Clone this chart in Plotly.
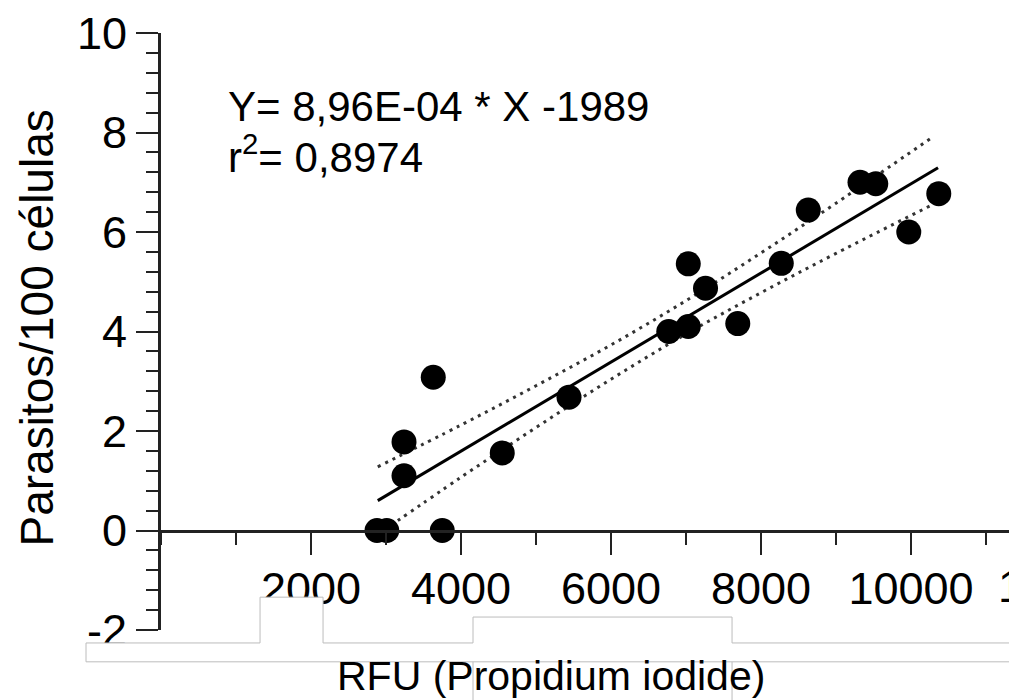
import plotly.graph_objects as go

# RFU readings (x) vs parasites per 100 cells (y)
rfu = [2880, 3010, 3750, 3630, 3240, 3240, 4550, 5440, 6770, 7030,
       7030, 7260, 7690, 8270, 8630, 9320, 9530, 9970, 10370]
parasitos = [0, 0, 0, 3.08, 1.78, 1.10, 1.56, 2.68, 4.0, 4.1,
             5.36, 4.87, 4.16, 5.37, 6.44, 7.0, 6.97, 6.0, 6.77]

# regression line end points
fit_x = [2890, 10360]
fit_y = [0.60, 7.29]

# 95% confidence band
band_x = [2890, 4000, 5000, 6000, 7000, 8000, 9000, 10300]
band_hi = [1.28, 2.12, 2.91, 3.73, 4.62, 5.58, 6.58, 7.92]
band_lo = [-0.08, 1.07, 2.07, 3.04, 3.95, 4.78, 5.57, 6.56]

y_ticks = [-2, 0, 2, 4, 6, 8, 10]
x_ticks = [2000, 4000, 6000, 8000, 10000]

FONT = "Liberation Sans, Arial, sans-serif"
AX = "#222"

# page is drawn with the default 8px body margin
OFF = 8
W, H = 1017, 700
L, R, T, B = 161, 0, 30, 70


def px(x):
    return (x - L) / (W - L - R)


def py(y):
    return (H - B - y) / (H - T - B)


def path(pts, close=False):
    s = " ".join(("M" if i == 0 else "L") + f"{px(a):.4f},{py(b):.4f}"
                 for i, (a, b) in enumerate(pts))
    return s + (" Z" if close else "")


def main():
    fig = go.Figure()

    for yy in (band_hi, band_lo):
        fig.add_trace(go.Scatter(
            x=band_x, y=yy, mode="lines",
            line=dict(color="#333", width=3, dash="3px,5px", shape="spline"),
            hoverinfo="skip"))

    fig.add_trace(go.Scatter(
        x=fit_x, y=fit_y, mode="lines",
        line=dict(color="black", width=3)))

    fig.add_trace(go.Scatter(
        x=rfu, y=parasitos, mode="markers",
        marker=dict(color="black", size=25)))

    # white boxes with grey outline at the bottom of the original image
    boxes = [(86, 662), (86, 643), (260, 643), (260, 597), (323, 597),
             (323, 643), (473, 643), (473, 617), (732, 617), (732, 643),
             (1020, 643), (1020, 662)]
    shapes = [
        dict(type="path", xref="paper", yref="paper", layer="above",
             path=path(boxes, close=True), fillcolor="white",
             line=dict(color="#bcbcbc", width=1)),
        dict(type="path", xref="paper", yref="paper", layer="above",
             path=path([(473, 702), (473, 662)]) + " " +
             path([(732, 662), (732, 702)]),
             line=dict(color="#bcbcbc", width=1)),
    ]

    annotations = [
        dict(text="Y= 8,96E-04 * X -1989",
             xref="paper", yref="paper", x=px(226), y=py(104),
             xanchor="left", yanchor="middle", align="left",
             showarrow=False, font=dict(size=42, color="black")),
        dict(text="r<sup>2</sup>= 0,8974",
             xref="paper", yref="paper", x=px(226), y=py(152),
             xanchor="left", yanchor="middle", align="left",
             showarrow=False, font=dict(size=42, color="black")),
        dict(text="RFU (Propidium iodide)", xref="paper", yref="paper",
             x=px(551), y=py(676), xanchor="center", yanchor="middle",
             showarrow=False, font=dict(size=41, color="black")),
        dict(text="Parasitos/100 células", xref="paper", yref="paper",
             x=px(37), y=py(327), xanchor="center", yanchor="middle",
             textangle=-90, showarrow=False,
             font=dict(size=46, color="black")),
        dict(text="12000", xref="paper", yref="paper",
             x=px(1060), y=py(586), xanchor="center", yanchor="middle",
             showarrow=False, font=dict(size=45, color="black")),
    ]

    fig.update_layout(
        width=W - OFF, height=H - OFF,
        margin=dict(l=L - OFF, r=R, t=T - OFF, b=B, pad=0),
        paper_bgcolor="white", plot_bgcolor="white",
        showlegend=False,
        font=dict(family=FONT, color="black"),
        shapes=shapes,
        annotations=annotations,
        xaxis=dict(
            range=[0, 11413], anchor="free", position=2 / 12,
            showgrid=False, zeroline=False,
            showline=True, linecolor=AX, linewidth=3,
            tickmode="array", tickvals=x_ticks,
            ticktext=[str(v) for v in x_ticks],
            ticks="outside", ticklen=22, tickwidth=2, tickcolor=AX,
            tickfont=dict(size=45), ticklabelstandoff=-5,
            ticklabeloverflow="allow",
            minor=dict(dtick=1000, tick0=0, ticks="outside", ticklen=12,
                       tickwidth=2, tickcolor=AX),
        ),
        yaxis=dict(
            range=[-2, 10], showgrid=False, zeroline=False,
            showline=True, linecolor=AX, linewidth=3,
            tickmode="array", tickvals=y_ticks,
            ticktext=[str(v) for v in y_ticks],
            ticks="outside", ticklen=22, tickwidth=2, tickcolor=AX,
            tickfont=dict(size=45), ticklabeloverflow="allow",
            minor=dict(dtick=0.4, tick0=0, ticks="outside", ticklen=12,
                       tickwidth=2, tickcolor=AX),
        ),
    )

    fig.write_html("out.html")


if __name__ == "__main__":
    main()
